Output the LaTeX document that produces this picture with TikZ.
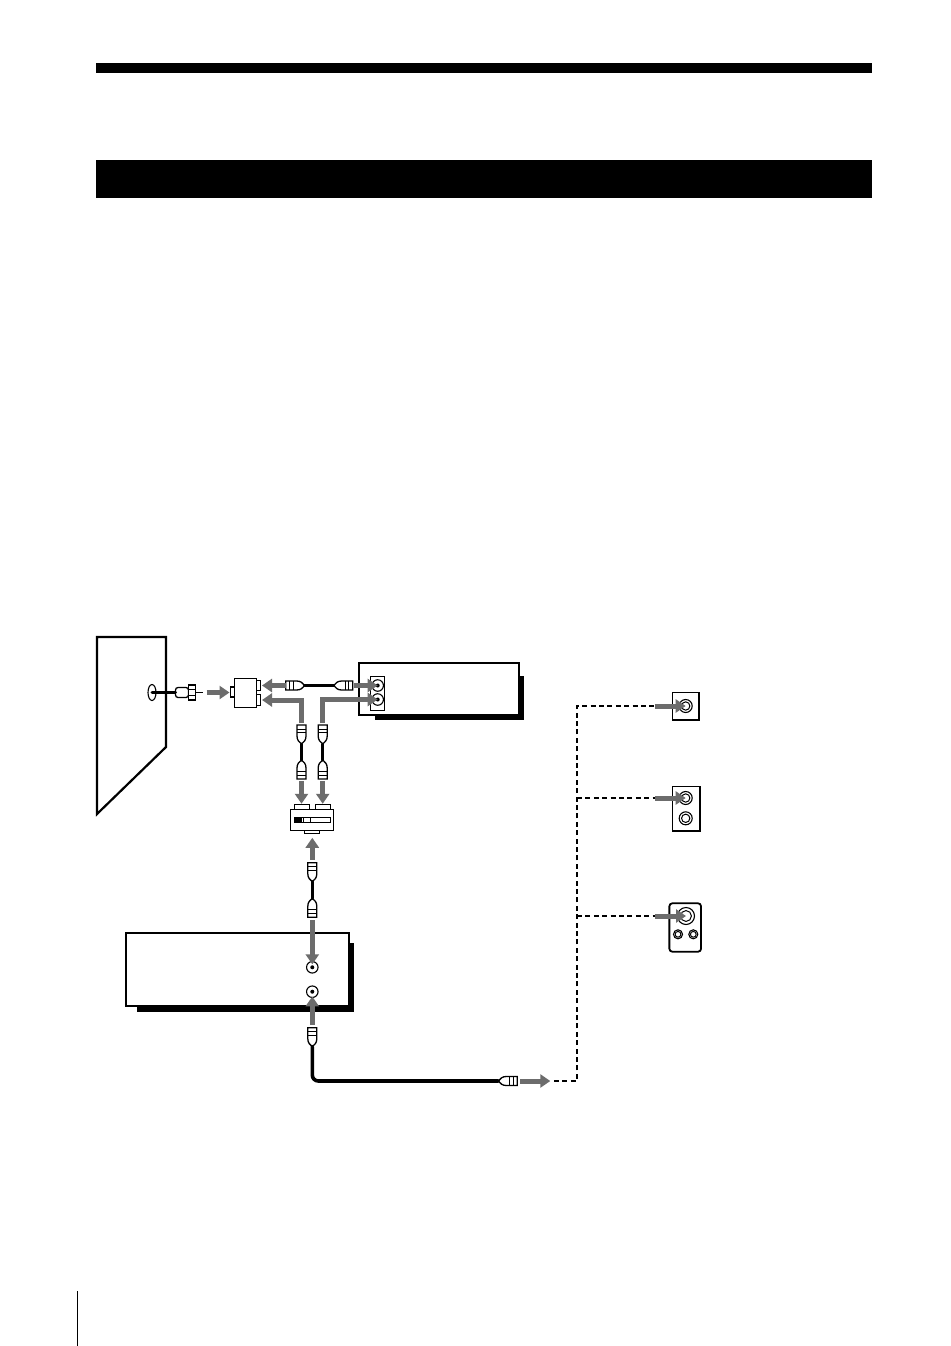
\documentclass[tikz,border=0pt]{standalone}
\usepackage{tikz}
\usetikzlibrary{shapes.geometric, arrows.meta, positioning, calc}
\definecolor{flowgray}{RGB}{108, 108, 108}

\begin{document}
\begin{tikzpicture}[
  x=1pt, y=-1pt,
  part/.style={draw, fill=white, line width=1.1pt, inner sep=0pt, outer sep=0pt},
  band/.style={fill=black, inner sep=0pt, outer sep=0pt, minimum width=776pt},
  shadowbox/.style={fill=black, inner sep=0pt, outer sep=0pt},
  unitbox/.style={draw, fill=white, line width=2pt, inner sep=0pt, outer sep=0pt},
  jackdot/.style={circle, part, minimum size=11.5pt, path picture={\fill[black] (path picture bounding box.center) circle (2pt);}},
  jackring/.style={circle, part, minimum size=#1, path picture={\draw[line width=1pt] (path picture bounding box.center) circle (0.32*#1);}},
  cable/.style={line width=3pt, line cap=round},
  dashwire/.style={line width=2pt, dash pattern=on 5pt off 3.4pt},
  flow/.style={draw=flowgray, line width=5pt, -{Triangle[length=10pt, width=13pt, fill=flowgray]}},
  plug/.pic={
    \draw[part, line width=1.3pt] (0,-4.5) -- (11,-4.5) .. controls (15,-4.5) and (17,-2.5) .. (19,0) .. controls (17,2.5) and (15,4.5) .. (11,4.5) -- (0,4.5) -- cycle;
    \draw[line width=1pt] (4,-4.5) -- (4,4.5) (7.5,-4.5) -- (7.5,4.5);
    \coordinate (-flat) at (0,0);
    \coordinate (-tail) at (19,0);
  },
  fplug/.pic={
    \draw[part, line width=1.3pt, rounded corners=2.5pt] (0,-5) -- (13,-5) -- (13,5) -- (0,5) -- cycle;
    \draw[part, line width=1.3pt] (13,-7.5) rectangle (20,7.5);
    \draw[line width=1pt] (13,-3) -- (20,-3) (13,3) -- (20,3);
    \draw[line width=1.2pt] (20,0) -- (27,0);
    \coordinate (-tail) at (0,0);
    \coordinate (-pin) at (27,0);
  }
]
  \useasboundingbox (0,0) rectangle (950,1346);
  \fill[white] (0,0) rectangle (950,1346);

  % page furniture
  \node[band, minimum height=10pt] (topbar) at (484,68) {};
  \node[band, minimum height=38pt] (headbar) at (484,179) {};
  \node[fill=black, inner sep=0pt, minimum width=1.6pt, minimum height=55pt] (margin) at (77.5,1318.5) {};

  % wall
  \draw[line width=2.2pt, line join=miter] (97,637) -- (166,637) -- (166,747) -- (97,814) -- cycle;
  \node[ellipse, part, minimum width=8pt, minimum height=16pt] (walljack) at (152,692.5) {};

  % splitter
  \node[part, minimum width=4.5pt, minimum height=10pt] (splitin) at (232.75,692) {};
  \node[part, minimum width=6pt, minimum height=10.5pt] (splita) at (257.5,685.5) {};
  \node[part, minimum width=6pt, minimum height=10.5pt] (splitb) at (257.5,700) {};
  \node[part, minimum width=22.5pt, minimum height=29.5pt] (splitter) at (245.5,693) {};

  % vcr
  \node[shadowbox, minimum width=149pt, minimum height=44pt] (vcrshadow) at (449.5,698) {};
  \node[unitbox, minimum width=160pt, minimum height=52.5pt] (vcr) at (439.3,689) {};
  \node[part, minimum width=14pt, minimum height=34.5pt] (vcrpanel) at (377.7,693.3) {};
  \node[jackdot] (vcrout) at (377.7,685.5) {};
  \node[jackdot] (vcrin) at (377.7,699.5) {};

  % selector
  \node[part, minimum width=15.5pt, minimum height=4.5pt] (seltaba) at (302,807) {};
  \node[part, minimum width=15.5pt, minimum height=4.5pt] (seltabb) at (323,807) {};
  \node[part, minimum width=15.5pt, minimum height=3.5pt] (seltabc) at (312,832) {};
  \node[part, minimum width=42.5pt, minimum height=21.5pt] (selector) at (312,820) {};
  \node[part, minimum width=36.5pt, minimum height=5pt] (selslot) at (312.5,819.8) {};
  \node[fill=black, inner sep=0pt, minimum width=8pt, minimum height=5pt] (selknob) at (298.3,819.8) {};
  \draw[line width=.7pt] (303,817.3) -- (303,822.3) (310.5,817.3) -- (310.5,822.3);

  % tv tuner
  \node[shadowbox, minimum width=217.6pt, minimum height=69pt] (tunershadow) at (245.5,977.2) {};
  \node[unitbox, minimum width=223.3pt, minimum height=73.3pt] (tuner) at (237.6,969.3) {};
  \node[jackdot] (tunerin) at (312.3,967.3) {};
  \node[jackdot] (tunerout) at (312.3,991.7) {};

  % jack panels
  \node[draw, line width=1.5pt, inner sep=0pt, minimum width=26.3pt, minimum height=27.3pt] (panela) at (685.8,706.3) {};
  \node[jackring=13pt] (jacka) at (685.7,706) {};
  \node[draw, line width=1.5pt, inner sep=0pt, minimum width=27.3pt, minimum height=44.3pt] (panelb) at (686.3,808.8) {};
  \node[jackring=13pt] (jackb) at (685.7,798) {};
  \node[jackring=13pt] (jackc) at (685.7,818.3) {};
  \node[draw, line width=1.8pt, rounded corners=3pt, inner sep=0pt, minimum width=31.7pt, minimum height=48.4pt] (paneld) at (685.2,927.5) {};
  \node[jackring=17pt] (jackd) at (686,916) {};
  \node[jackring=9pt] (jacke) at (678,934.3) {};
  \node[jackring=9pt] (jackf) at (693.3,934.3) {};

  % plugs
  \pic (fp) at (175.5,692.5) {fplug};
  \pic (pa) at (285.7,685.5) {plug};
  \pic[rotate=180] (pb) at (352.7,685.5) {plug};
  \pic[rotate=-90] (pc) at (301.5,725) {plug};
  \pic[rotate=90] (pd) at (301.5,779) {plug};
  \pic[rotate=-90] (pe) at (322.7,725) {plug};
  \pic[rotate=90] (pf) at (322.7,779) {plug};
  \pic[rotate=-90] (pg) at (312.3,862.7) {plug};
  \pic[rotate=90] (ph) at (312.3,917.3) {plug};
  \pic[rotate=-90] (pi) at (312.3,1027.7) {plug};
  \pic[rotate=180] (pj) at (517.3,1081) {plug};

  % cables
  \draw[cable] (walljack.center) -- (fp-tail);
  \draw[cable] (pa-tail) -- (pb-tail);
  \draw[cable] (pc-tail) -- (pd-tail);
  \draw[cable] (pe-tail) -- (pf-tail);
  \draw[cable] (pg-tail) -- (ph-tail);
  \draw[cable, line width=3.6pt, rounded corners=6pt] (pi-tail) |- (pj-tail);

  % dashed run
  \coordinate (dashend) at (554,1081);
  \coordinate (dashcorner) at (577,1081);
  \coordinate (dashtop) at (577,706);
  \draw[dashwire] (dashend) -- (dashcorner) -- (dashtop) -- (655,706);
  \draw[dashwire] (577,798) -- (655,798);
  \draw[dashwire] (577,916) -- (655,916);

  % arrows
  \draw[flow, shorten <=4pt] (fp-pin) -- ++(27,0);
  \draw[flow, shorten >=1.5pt] (pa-flat) -- (splita.east);
  \draw[flow, shorten <=2pt, shorten >=1.5pt] (pc-flat) |- (splitb.east);
  \draw[flow, shorten <=2pt] (pe-flat) |- (vcrin.center);
  \draw[flow, shorten <=1.5pt] (pb-flat) -- (vcrout.center);
  \draw[flow, shorten <=2pt, shorten >=1pt] (pd-flat) -- (pd-flat |- seltaba.north);
  \draw[flow, shorten <=2pt, shorten >=1pt] (pf-flat) -- (pf-flat |- seltabb.north);
  \draw[flow, shorten <=3pt, shorten >=4pt] (pg-flat) -- (pg-flat |- seltabc.south);
  \draw[flow, shorten <=3pt, shorten >=3pt] (ph-flat) -- (tunerin.center);
  \draw[flow, shorten <=3pt, shorten >=-1pt] (pi-flat) -- (tunerout.south);
  \draw[flow, shorten <=3pt] (pj-flat) -- ++(33,0);
  \draw[flow] (655,706) -- (jacka.center);
  \draw[flow] (655,798) -- (jackb.center);
  \draw[flow] (655,916) -- (jackd.center);
\end{tikzpicture}
\end{document}
